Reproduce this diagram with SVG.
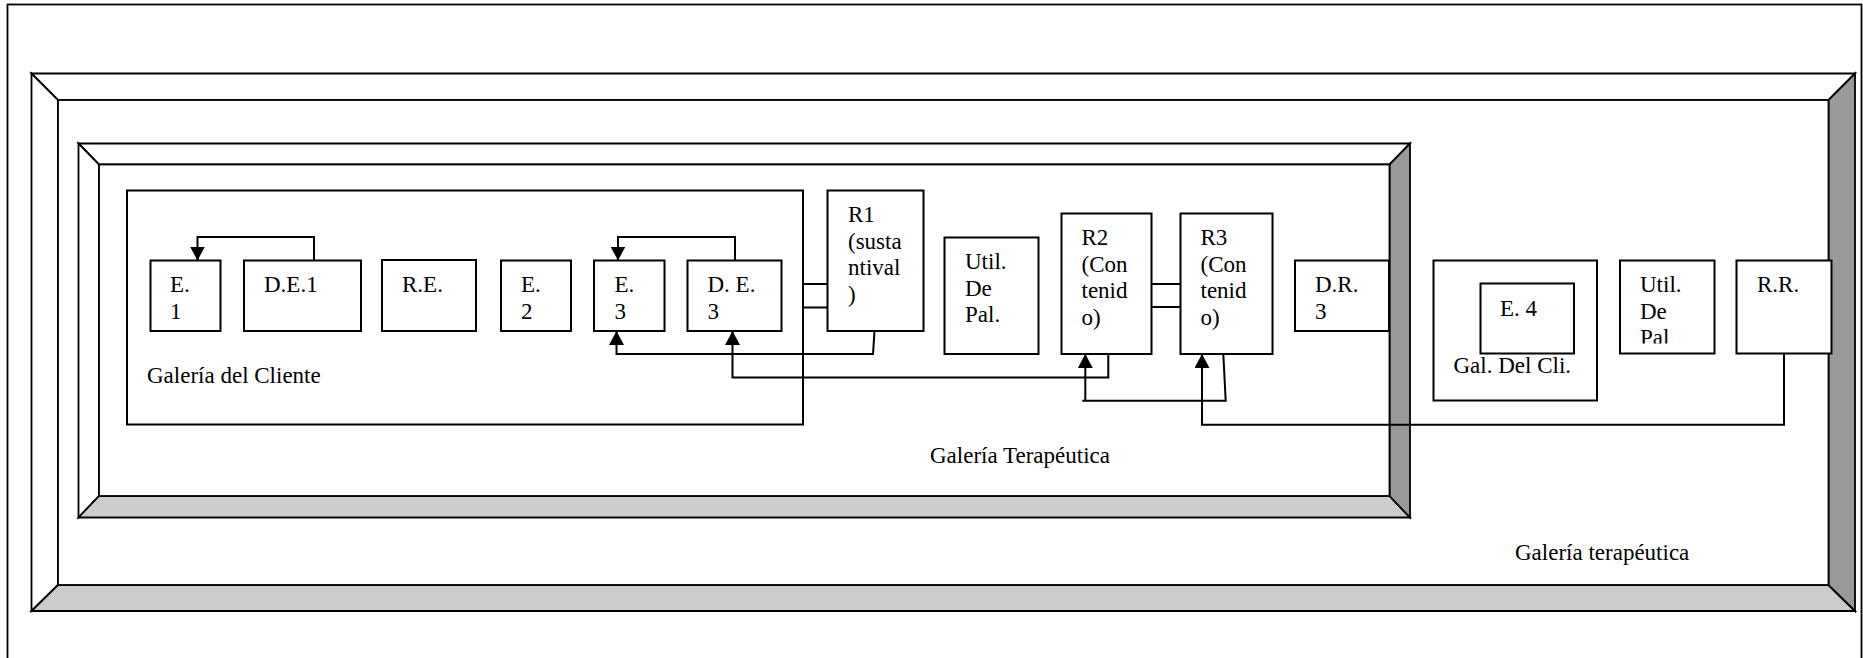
<svg xmlns="http://www.w3.org/2000/svg" width="1863" height="658" viewBox="0 0 1863 658">
<defs>
<style>
.t{font-family:"Liberation Serif","Times New Roman",serif;font-size:23px;fill:#000}
.box{fill:#fff;stroke:#000;stroke-width:2}
.fr{stroke:#000;stroke-width:1.8;stroke-linejoin:miter}
.w{fill:#fff}
.lg{fill:#ccc}
.dg{fill:#999}
.c{fill:none;stroke:#000;stroke-width:2}
.ca{fill:none;stroke:#000;stroke-width:2;marker-end:url(#ah)}
</style>
<marker id="ah" markerUnits="userSpaceOnUse" markerWidth="15" markerHeight="15" refX="14" refY="7.5" orient="auto">
<path d="M0,0 L14,7.5 L0,15 z" fill="#000"/>
</marker>
<clipPath id="clipUtil2"><rect x="1620" y="260" width="95" height="83.5"/></clipPath>
</defs>
<rect x="0" y="0" width="1863" height="658" fill="#fff"/>
<rect id="page" x="7.5" y="4.5" width="1854" height="660" fill="none" stroke="#000" stroke-width="1.8"/>

<g id="galeria-terapeutica-outer">
<polygon class="fr w" points="31.5,73.5 1855,73.5 1828.5,100 58,100"/>
<polygon class="fr w" points="31.5,73.5 58,100 58,585 31.5,611"/>
<polygon class="fr lg" points="31.5,611 58,585 1828.5,585 1855,611"/>
<polygon class="fr dg" points="1855,73.5 1855,611 1828.5,585 1828.5,100"/>
<rect class="fr w" x="58" y="100" width="1770.5" height="485"/>
<text class="t" x="1515" y="560">Galería terapéutica</text>
</g>

<g id="galeria-terapeutica-inner">
<polygon class="fr w" points="78.5,143.5 1410,143.5 1389.5,164.5 99,164.5"/>
<polygon class="fr w" points="78.5,143.5 99,164.5 99,496 78.5,517.5"/>
<polygon class="fr lg" points="78.5,517.5 99,496 1389.5,496 1410,517.5"/>
<polygon class="fr dg" points="1410,143.5 1410,517.5 1389.5,496 1389.5,164.5"/>
<rect class="fr w" x="99" y="164.5" width="1290.5" height="331.5"/>
<text class="t" x="930" y="463">Galería Terapéutica</text>
</g>

<g id="galeria-cliente">
<rect class="box" x="127" y="190.5" width="676" height="234"/>
<text class="t" x="147" y="383">Galería del Cliente</text>
</g>

<g id="E1"><rect class="box" x="150.5" y="260.5" width="70" height="70.5"/>
<text class="t" x="170" y="292">E.</text><text class="t" x="170" y="318.5">1</text></g>
<g id="DE1"><rect class="box" x="244" y="260.5" width="117" height="70.5"/>
<text class="t" x="264" y="292">D.E.1</text></g>
<g id="RE"><rect class="box" x="382" y="260" width="94" height="71"/>
<text class="t" x="402" y="292">R.E.</text></g>
<g id="E2"><rect class="box" x="501" y="260.5" width="70" height="70.5"/>
<text class="t" x="521" y="292">E.</text><text class="t" x="521" y="318.5">2</text></g>
<g id="E3"><rect class="box" x="594" y="260.5" width="70.5" height="70.5"/>
<text class="t" x="614.5" y="292">E.</text><text class="t" x="614.5" y="318.5">3</text></g>
<g id="DE3"><rect class="box" x="687.5" y="260.5" width="94" height="70.5"/>
<text class="t" x="707.5" y="292">D. E.</text><text class="t" x="707.5" y="318.5">3</text></g>
<g id="R1"><rect class="box" x="827.5" y="190.5" width="96" height="140.5"/>
<text class="t" x="848" y="222">R1</text><text class="t" x="848" y="248.5">(susta</text><text class="t" x="848" y="275">ntival</text><text class="t" x="848" y="301.5">)</text></g>
<g id="Util1"><rect class="box" x="944.5" y="237.5" width="94" height="116.5"/>
<text class="t" x="965" y="269">Util.</text><text class="t" x="965" y="295.5">De</text><text class="t" x="965" y="322">Pal.</text></g>
<g id="R2"><rect class="box" x="1061.5" y="213.5" width="90" height="140.5"/>
<text class="t" x="1081.5" y="245">R2</text><text class="t" x="1081.5" y="271.5">(Con</text><text class="t" x="1081.5" y="298">tenid</text><text class="t" x="1081.5" y="324.5">o)</text></g>
<g id="R3"><rect class="box" x="1180.5" y="213.5" width="92" height="140.5"/>
<text class="t" x="1200.5" y="245">R3</text><text class="t" x="1200.5" y="271.5">(Con</text><text class="t" x="1200.5" y="298">tenid</text><text class="t" x="1200.5" y="324.5">o)</text></g>
<g id="DR3"><rect class="box" x="1295" y="260.5" width="94" height="70.5"/>
<text class="t" x="1315" y="292">D.R.</text><text class="t" x="1315" y="318.5">3</text></g>
<g id="GalDelCli"><rect class="box" x="1433.5" y="260.5" width="163.5" height="140"/>
<text class="t" x="1453.5" y="372.5">Gal. Del Cli.</text></g>
<g id="E4"><rect class="box" x="1480.5" y="283.5" width="93.5" height="70"/>
<text class="t" x="1500" y="315.5">E. 4</text></g>
<g id="Util2"><rect class="box" x="1620" y="260.5" width="94.5" height="93"/>
<g clip-path="url(#clipUtil2)"><text class="t" x="1640" y="292">Util.</text><text class="t" x="1640" y="318.5">De</text><text class="t" x="1640" y="345">Pal</text></g></g>
<g id="RR"><rect class="box" x="1736.5" y="260.5" width="95" height="93"/>
<text class="t" x="1757" y="292">R.R.</text></g>

<g id="connectors">
<path class="ca" d="M314,260.5 V237 H197.5 V260.5"/>
<path class="ca" d="M735,260.5 V237 H618 V260.5"/>
<path class="ca" d="M874.5,331 L873,354 H616.5 V331"/>
<path class="ca" d="M1108.3,354 V377.5 H732.5 V331"/>
<path class="ca" d="M1223.3,354 L1225.7,400.7 H1082.3 M1085.3,400.7 V354"/>
<path class="ca" d="M1784,353.5 V424.7 H1202 V354"/>
<path class="c" d="M803,284 H827.5 M803,307.5 H827.5"/>
<path class="c" d="M1151.5,284 H1180.5 M1151.5,307 H1180.5"/>
</g>
</svg>
